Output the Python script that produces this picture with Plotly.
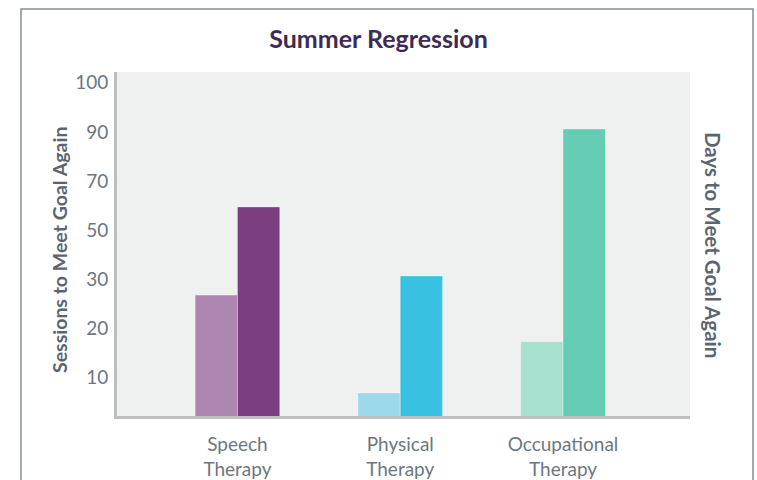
import numpy as np
import plotly.graph_objects as go

# ---- data ----
categories = ["Speech<br>Therapy", "Physical<br>Therapy", "Occupational<br>Therapy"]
sessions = [26.8, 6.9, 17.3]     # lighter bars
days = [59.5, 31.4, 90.6]        # darker bars
tick_values = [10, 20, 30, 50, 70, 90, 100]
tick_labels = ["10", "20", "30", "50", "70", "90", "100"]

light_colors = ["#ad86b2", "#9dd8eb", "#a6e0cf"]
dark_colors = ["#7b3e80", "#38c1e0", "#64cdb4"]

# the axis labels are evenly spaced but non-linear: map values onto tick index scale
scale_vals = [0] + tick_values
scale_pos = list(range(len(scale_vals)))


def to_pos(vals):
    return list(np.interp(vals, scale_vals, scale_pos))


FONT = "Lato"
GREY = "#6c7781"

fig = go.Figure()
fig.add_trace(go.Bar(x=categories, y=to_pos(sessions), name="Sessions",
                     marker=dict(color=light_colors, line=dict(color="rgba(255,255,255,0.35)", width=1)),
                     hoverinfo="skip"))
fig.add_trace(go.Bar(x=categories, y=to_pos(days), name="Days",
                     marker=dict(color=dark_colors, line=dict(color="rgba(255,255,255,0.35)", width=1)),
                     hoverinfo="skip"))

fig.update_layout(
    width=757, height=480,
    margin=dict(l=117, r=67, t=72, b=64, autoexpand=False),
    paper_bgcolor="white",
    plot_bgcolor="#eff0f0",
    barmode="group", bargap=0.48, bargroupgap=0,
    showlegend=False,
    font=dict(family=FONT, color=GREY, size=18),
    title=dict(text="<b>Summer Regression</b>", x=0.5, xanchor="center",
               y=1 - 39 / 480, yanchor="middle",
               font=dict(family=FONT, size=25, color="#3d2b55")),
)

fig.update_xaxes(
    range=[-0.74, 2.78], automargin=False,
    showline=True, linewidth=3, linecolor="#bcbec0",
    ticks="outside", ticklen=9, tickcolor="rgba(0,0,0,0)",
    tickfont=dict(family=FONT, size=19, color=GREY),
    showgrid=False, zeroline=False,
)
fig.update_yaxes(
    range=[0.22, 7.22], automargin=False,
    tickvals=to_pos(tick_values), ticktext=tick_labels,
    showline=True, linewidth=3, linecolor="#bcbec0",
    ticks="outside", ticklen=2, tickcolor="rgba(0,0,0,0)",
    tickfont=dict(family=FONT, size=19, color=GREY),
    showgrid=False, zeroline=False,
)

# axis titles
fig.add_annotation(text="<b>Sessions to Meet Goal Again</b>", textangle=-90,
                   xref="paper", yref="paper", x=(59 - 117) / 573, y=(416 - 250) / 344,
                   xanchor="center", yanchor="middle", showarrow=False,
                   font=dict(family=FONT, size=19.5, color="#5b6570"))
fig.add_annotation(text="<b>Days to Meet Goal Again</b>", textangle=90,
                   xref="paper", yref="paper", x=(713 - 117) / 573, y=(416 - 245) / 344,
                   xanchor="center", yanchor="middle", showarrow=False,
                   font=dict(family=FONT, size=20.5, color="#5b6570"))

# outer frame
fig.add_shape(type="rect", xref="paper", yref="paper",
              x0=(21 - 117) / 573, x1=(753 - 117) / 573,
              y0=(416 - 490) / 344, y1=(416 - 9) / 344,
              line=dict(color="#848e97", width=1.5), fillcolor="rgba(0,0,0,0)", layer="below")

fig.write_html("out.html", config={"displayModeBar": False},
               post_script="document.body.style.margin='0';")
